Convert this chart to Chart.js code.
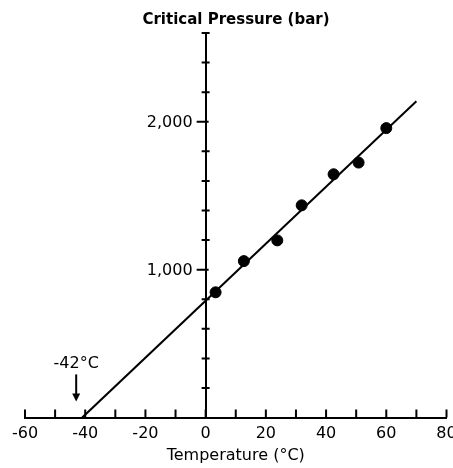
<!DOCTYPE html>
<html>
<head>
<meta charset="utf-8">
<script src="https://cdn.jsdelivr.net/npm/chart.js@4.4.0/dist/chart.umd.min.js"></script>
<style>
  html, body { margin: 0; padding: 0; background: #fff; }
  #wrap { width: 453px; height: 468px; }
</style>
</head>
<body>
<div id="wrap"><canvas id="chart"></canvas></div>
<script>
// measured points
const tempC = [3.3, 12.7, 23.8, 31.9, 42.5, 50.8, 60];
const pressureBar = [847, 1058, 1198, 1435, 1645, 1724, 1957];

// fitted line endpoints
const fitTemp = [-41, 70];
const fitPressure = [0, 2138];

// axis ticks
const xTickStep = 10;
const xLabelStep = 20;
const yTickStep = 200;
const yLabels = { 1000: '1,000', 2000: '2,000' };

// arrow annotation
const arrowTemp = -43;
const arrowFrom = 292;
const arrowTo = 108;
const arrowText = '-42°C';
const arrowTextAt = 362;

const font = 'DejaVu Sans';

const axisTicks = {
  id: 'axisTicks',
  afterDraw(chart) {
    const { ctx, scales: { x, y } } = chart;
    const x0 = x.getPixelForValue(0);
    const y0 = y.getPixelForValue(0);
    ctx.save();
    ctx.strokeStyle = '#000';
    ctx.fillStyle = '#000';
    ctx.lineWidth = 2;
    ctx.beginPath();
    for (let v = x.min; v <= x.max; v += xTickStep) {
      const px = x.getPixelForValue(v);
      ctx.moveTo(px, y0);
      ctx.lineTo(px, y0 - 8);
    }
    for (let v = y.min + yTickStep; v <= y.max; v += yTickStep) {
      const py = y.getPixelForValue(v);
      if (yLabels[v]) {
        ctx.moveTo(x0 - 9, py);
        ctx.lineTo(x0 + 3, py);
      } else {
        ctx.moveTo(x0 - 4, py);
        ctx.lineTo(x0 + 4, py);
      }
    }
    ctx.stroke();

    // y labels left of the centred axis
    ctx.font = '16px "' + font + '"';
    ctx.textAlign = 'right';
    ctx.textBaseline = 'middle';
    Object.keys(yLabels).forEach(v => {
      ctx.fillText(yLabels[v], x0 - 13, y.getPixelForValue(+v) + 1);
    });

    // arrow to the intercept
    const ax = x.getPixelForValue(arrowTemp);
    const a1 = y.getPixelForValue(arrowFrom);
    const a2 = y.getPixelForValue(arrowTo);
    ctx.beginPath();
    ctx.moveTo(ax, a1);
    ctx.lineTo(ax, a2 - 6);
    ctx.stroke();
    ctx.beginPath();
    ctx.moveTo(ax - 4, a2 - 8);
    ctx.lineTo(ax + 4, a2 - 8);
    ctx.lineTo(ax, a2);
    ctx.closePath();
    ctx.fill();

    ctx.textAlign = 'center';
    ctx.fillText(arrowText, ax, y.getPixelForValue(arrowTextAt));
    ctx.restore();
  }
};

new Chart(document.getElementById('chart'), {
  type: 'scatter',
  data: {
    datasets: [
      {
        type: 'line',
        data: fitTemp.map((t, i) => ({ x: t, y: fitPressure[i] })),
        borderColor: '#000',
        borderWidth: 2,
        pointRadius: 0,
        fill: false
      },
      {
        data: tempC.map((t, i) => ({ x: t, y: pressureBar[i] })),
        backgroundColor: '#000',
        borderColor: '#000',
        pointRadius: 5.5
      }
    ]
  },
  options: {
    responsive: true,
    maintainAspectRatio: false,
    animation: false,
    layout: { padding: { left: 25, right: 6, top: 0, bottom: 3 } },
    plugins: {
      legend: { display: false },
      tooltip: { enabled: false },
      title: {
        display: true,
        text: 'Critical Pressure (bar)',
        color: '#000',
        font: { family: font, size: 15, weight: 'bold' },
        padding: { top: 11, bottom: 4 }
      }
    },
    scales: {
      x: {
        type: 'linear',
        min: -60,
        max: 80,
        grid: { display: false, drawTicks: false, tickLength: 0 },
        border: { display: true, color: '#000', width: 2 },
        ticks: {
          stepSize: xTickStep,
          color: '#000',
          padding: 7,
          maxRotation: 0,
          autoSkip: false,
          font: { family: font, size: 16 },
          callback: v => (v % xLabelStep === 0 ? String(v) : '')
        },
        title: {
          display: true,
          text: 'Temperature (°C)',
          color: '#000',
          font: { family: font, size: 16 },
          padding: { top: -5, bottom: 0 }
        },
        afterFit(scale) {
          scale.paddingLeft = 0;
          scale.paddingRight = 0;
        }
      },
      y: {
        type: 'linear',
        position: { x: 0 },
        min: 0,
        max: 2600,
        grid: { display: false, drawTicks: false, tickLength: 0 },
        border: { display: true, color: '#000', width: 2 },
        ticks: { stepSize: yTickStep, display: false }
      }
    }
  },
  plugins: [axisTicks]
});
</script>
</body>
</html>
